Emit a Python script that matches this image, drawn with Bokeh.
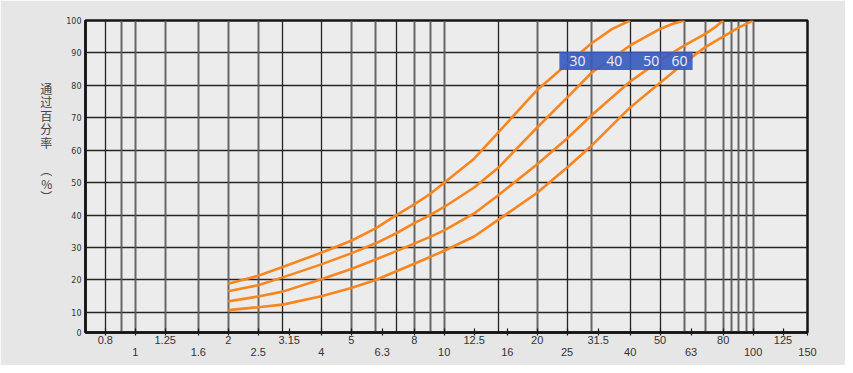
import math
from bokeh.plotting import figure
from bokeh.models import (FixedTicker, LogAxis, Grid, CustomJSTickFormatter,
                          Label, BoxAnnotation)
from bokeh.embed import file_html
from bokeh.resources import INLINE

# ---------------- data ----------------
series_names = ["30", "40", "50", "60"]

x_30 = [2, 2.5, 3, 4, 5, 6, 7, 8, 9, 10, 12.5, 15, 20, 25, 30, 35, 40]
y_30 = [18.8, 21.3, 24.0, 28.4, 32.1, 35.9, 40.0, 43.3, 46.5, 50.0, 57.4, 65.6, 78.6, 86.6, 93.0, 97.4, 100]

x_40 = [2, 2.5, 3, 4, 5, 6, 7, 8, 9, 10, 12.5, 15, 20, 25, 30, 40, 50, 55, 60]
y_40 = [16.5, 18.4, 20.8, 24.8, 28.2, 31.3, 34.4, 37.5, 40.0, 42.5, 48.5, 54.7, 67.0, 76.2, 83.9, 92.3, 97.4, 99.0, 100]

x_50 = [2, 2.5, 3, 4, 5, 6, 7, 8, 9, 10, 12.5, 15, 20, 25, 30, 40, 50, 60, 70, 75, 80]
y_50 = [13.4, 14.9, 16.4, 20.2, 23.4, 26.3, 28.9, 31.2, 33.3, 35.3, 40.5, 46.2, 55.7, 63.6, 70.8, 81.2, 87.7, 92.3, 95.9, 97.8, 100]

x_60 = [2, 2.5, 3, 4, 5, 6, 7, 8, 9, 10, 12.5, 15, 20, 25, 30, 40, 50, 60, 70, 80, 90, 100]
y_60 = [10.7, 11.6, 12.4, 15.0, 17.5, 20.0, 22.7, 25.0, 27.1, 29.0, 33.4, 38.6, 46.9, 54.7, 61.4, 73.2, 80.8, 87.0, 91.8, 95.0, 97.9, 100]

# x tick labels, two staggered rows
x_row1 = [0.8, 1.25, 2, 3.15, 5, 8, 12.5, 20, 31.5, 50, 80, 125]
x_row2 = [1, 1.6, 2.5, 4, 6.3, 10, 16, 25, 40, 63, 100, 150]
x_row1_labels = ["0.8", "1.25", "2", "3.15", "5", "8", "12.5", "20", "31.5", "50", "80", "125"]
x_row2_labels = ["1", "1.6", "2.5", "4", "6.3", "10", "16", "25", "40", "63", "100", "150"]

# vertical grid lines (dark and grey ones)
grid_dark = [0.8, 3, 4, 7, 15, 25, 40, 50]
grid_grey = [0.9, 1, 1.25, 1.6, 2, 2.5, 5, 6, 8, 9, 10, 20, 30, 60, 70, 80, 85, 90, 95, 100]

# y axis (the 0 line sits compressed just under 10, as in the reference)
y_floor = 3.8
y_ticks = [y_floor, 10, 20, 30, 40, 50, 60, 70, 80, 90, 100]
y_labels = ["0", "10", "20", "30", "40", "50", "60", "70", "80", "90", "100"]

y_title_lines = ["通", "过", "百", "分", "率", "\u3000", "︵", "%", "︶",
                 "\u3000", "\u3000", "\u3000", "\u3000", "\u3000"]

# ---------------- figure ----------------
p = figure(width=845, height=365, x_axis_type="log",
           x_range=(0.69, 150), y_range=(y_floor, 100),
           output_backend="svg", toolbar_location=None,
           min_border_left=85, min_border_right=38,
           min_border_top=20, min_border_bottom=33)

p.background_fill_color = "#ececec"
p.border_fill_color = "#e6e6e6"
p.outline_line_color = "#151515"
p.outline_line_width = 2.5


def fmt(vals, labs):
    return CustomJSTickFormatter(args=dict(vals=vals, labs=labs), code="""
        for (let i = 0; i < vals.length; i++) {
            if (Math.abs(vals[i] - tick) < 1e-9) { return labs[i]; }
        }
        return '';
    """)


# grids
p.xgrid.ticker = FixedTicker(ticks=grid_dark)
p.xgrid.grid_line_color = "#242424"
p.xgrid.grid_line_width = 1.3
g2 = Grid(dimension=0, ticker=FixedTicker(ticks=grid_grey),
          grid_line_color="#595959", grid_line_width=2.0, grid_line_alpha=0.9)
p.add_layout(g2)
p.ygrid.ticker = FixedTicker(ticks=[10, 20, 30, 40, 50, 60, 70, 80, 90])
p.ygrid.grid_line_color = "#242424"
p.ygrid.grid_line_width = 1.3

# main x axis: all ticks, first row labels
ax1 = p.xaxis[0]
ax1.ticker = FixedTicker(ticks=sorted(x_row1 + x_row2))
ax1.formatter = fmt(x_row1, x_row1_labels)
ax1.axis_line_color = "#151515"
ax1.axis_line_width = 2.5
ax1.major_tick_line_color = "#151515"
ax1.major_tick_line_width = 1.2
ax1.major_tick_in = 4
ax1.major_tick_out = 3
ax1.minor_tick_line_color = None
ax1.major_label_standoff = 0
ax1.major_label_text_font = "Liberation Sans"
ax1.major_label_text_font_size = "11px"
ax1.major_label_text_color = "#333333"

# second row of x labels
ax2 = LogAxis(ticker=FixedTicker(ticks=x_row2), formatter=fmt(x_row2, x_row2_labels),
              axis_line_color=None, major_tick_line_color=None, minor_tick_line_color=None,
              major_tick_in=0, major_tick_out=0, major_label_standoff=1,
              major_label_text_font="Liberation Sans", major_label_text_font_size="11px",
              major_label_text_color="#333333")
p.add_layout(ax2, "below")

# y axis
ya = p.yaxis[0]
ya.ticker = FixedTicker(ticks=y_ticks)
ya.formatter = fmt(y_ticks, y_labels)
ya.axis_line_color = "#151515"
ya.axis_line_width = 2.5
ya.major_tick_line_color = None
ya.minor_tick_line_color = None
ya.major_tick_out = 0
ya.major_tick_in = 0
ya.major_label_standoff = 4
ya.major_label_text_font = "DejaVu Sans"
ya.major_label_text_font_size = "8px"
ya.major_label_text_color = "#333333"
ya.axis_label = "\n".join(y_title_lines)
ya.axis_label_orientation = "horizontal"
ya.axis_label_text_font = "Noto Sans CJK SC"
ya.axis_label_text_font_size = "12px"
ya.axis_label_text_font_style = "normal"
ya.axis_label_text_line_height = 0.8
ya.axis_label_text_color = "#444444"
ya.axis_label_standoff = 11

# curves
orange = "#f7861e"
for xs, ys in [(x_30, y_30), (x_40, y_40), (x_50, y_50), (x_60, y_60)]:
    p.line(xs, ys, line_color=orange, line_width=2.6)

# series label box
box = BoxAnnotation(left=23.6, right=63.7, bottom=84.7, top=90.4,
                    fill_color="#3a5bbf", fill_alpha=0.92, line_color=None)
p.add_layout(box)
label_x = [27.0, 35.5, 46.8, 57.8]
for name, lx in zip(series_names, label_x):
    p.add_layout(Label(x=lx, y=87.5, text=name, text_align="center", text_baseline="middle",
                       text_font="Open Sans", text_font_size="14px", text_color="#eef1fb"))

open("out.html", "w").write(file_html(p, INLINE))
